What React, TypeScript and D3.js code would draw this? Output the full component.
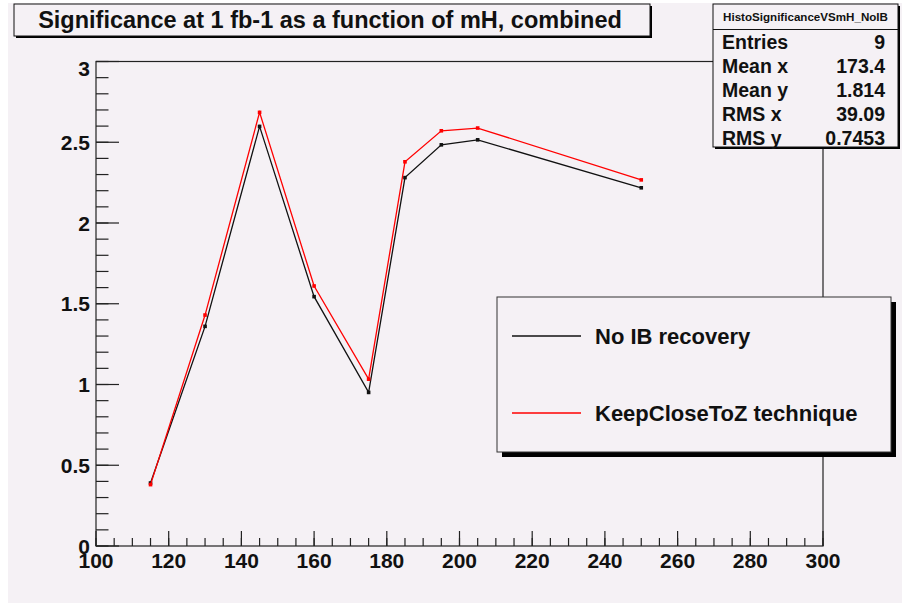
import React from "react";
import * as d3 from "d3";

const massPoints = [115, 130, 145, 160, 175, 185, 195, 205, 250];
const noIBRecovery = [0.39, 1.36, 2.598, 1.544, 0.951, 2.281, 2.484, 2.515, 2.218];
const keepCloseToZ = [0.38, 1.43, 2.685, 1.61, 1.033, 2.379, 2.571, 2.588, 2.267];

const titleText = "Significance at 1 fb-1 as a function of mH, combined";
const statsName = "HistoSignificanceVSmH_NoIB";
const statsLabels = ["Entries", "Mean x", "Mean y", "RMS x", "RMS y"];
const statsValues = ["9", "173.4", "1.814", "39.09", "0.7453"];
const seriesNames = ["No IB recovery", "KeepCloseToZ technique"];
const seriesColors = ["#111111", "#ff0000"];

const W = 902;
const H = 603;
const BG = "#f5f1f5";
const FONT = "'Liberation Sans', Arial, Helvetica, sans-serif";

const x = d3.scaleLinear().domain([100, 300]).range([96, 823]);
const y = d3.scaleLinear().domain([0, 3]).range([546, 61.5]);

export default function App() {
  const xMajor = x.ticks(10);
  const xMinor = x.ticks(40);
  const yMajor = y.ticks(6);
  const yMinor = y.ticks(30);
  const line = d3
    .line<number>()
    .x((_, i) => x(massPoints[i]))
    .y((d) => y(d));
  const series = [noIBRecovery, keepCloseToZ];

  const legend = { x: 497, y: 297, w: 394, h: 155 };
  const stats = { x: 713, y: 4, w: 185, h: 143 };
  const title = { x: 14, y: 4, w: 636, h: 32 };

  return (
    <div style={{ position: "absolute", left: 0, top: 0 }}>
      <svg width={W} height={H} style={{ display: "block" }} fontFamily={FONT} fontWeight="bold">
        <rect x={0} y={0} width={W} height={H} fill="#ffffff" />
        <rect x={8} y={3} width={W - 8} height={H - 3} fill={BG} />

        {/* frame */}
        <rect x={x(100)} y={y(3)} width={x(300) - x(100)} height={y(0) - y(3)} fill="none" stroke="#222" strokeWidth={1.2} />

        {/* y ticks */}
        {yMinor.map((t) => (
          <line key={"ym" + t} x1={x(100)} x2={x(100) + 12.5} y1={y(t)} y2={y(t)} stroke="#222" strokeWidth={1.2} />
        ))}
        {yMajor.map((t) => (
          <line key={"yM" + t} x1={x(100)} x2={x(100) + 23} y1={y(t)} y2={y(t)} stroke="#222" strokeWidth={1.2} />
        ))}
        {yMajor.map((t) => (
          <text
            key={"yl" + t}
            x={90}
            y={Math.max(y(t), 68) + 7.5}
            textAnchor="end"
            fontSize={21}
            fill="#111"
          >
            {d3.format("~g")(t)}
          </text>
        ))}

        {/* x ticks */}
        {xMinor.map((t) => (
          <line key={"xm" + t} x1={x(t)} x2={x(t)} y1={y(0)} y2={y(0) - 8} stroke="#222" strokeWidth={1.2} />
        ))}
        {xMajor.map((t) => (
          <line key={"xM" + t} x1={x(t)} x2={x(t)} y1={y(0)} y2={y(0) - 15} stroke="#222" strokeWidth={1.2} />
        ))}
        {xMajor.map((t) => (
          <text key={"xl" + t} x={x(t)} y={568} textAnchor="middle" fontSize={21} fill="#111">
            {t}
          </text>
        ))}

        {/* data */}
        {series.map((s, k) => (
          <g key={"s" + k}>
            <path d={line(s) || ""} fill="none" stroke={seriesColors[k]} strokeWidth={1.3} />
            {s.map((v, i) => (
              <rect
                key={i}
                x={x(massPoints[i]) - 1.8}
                y={y(v) - 1.8}
                width={3.6}
                height={3.6}
                fill={seriesColors[k]}
              />
            ))}
          </g>
        ))}

        {/* title */}
        <rect x={title.x + 2} y={title.y + 2} width={title.w} height={title.h} fill="#000" />
        <rect x={title.x} y={title.y} width={title.w} height={title.h} fill={BG} stroke="#111" strokeWidth={1} />
        <text x={title.x + title.w / 2 - 2} y={28} textAnchor="middle" fontSize={23.5} fill="#111">
          {titleText}
        </text>

        {/* stats box */}
        <rect x={stats.x + 2} y={stats.y + 2} width={stats.w} height={stats.h} fill="#000" />
        <rect x={stats.x} y={stats.y} width={stats.w} height={stats.h} fill={BG} stroke="#111" strokeWidth={1} />
        <line x1={stats.x} x2={stats.x + stats.w} y1={29.5} y2={29.5} stroke="#111" strokeWidth={1} />
        <text x={stats.x + stats.w / 2} y={20.5} textAnchor="middle" fontSize={11.6} fill="#111">
          {statsName}
        </text>
        {statsLabels.map((lab, i) => (
          <g key={lab}>
            <text x={722} y={49 + i * 24} fontSize={19.5} fill="#111">
              {lab}
            </text>
            <text x={885} y={49 + i * 24} textAnchor="end" fontSize={19.5} fill="#111">
              {statsValues[i]}
            </text>
          </g>
        ))}

        {/* legend */}
        <rect x={legend.x + 5} y={legend.y + 5} width={legend.w} height={legend.h} fill="#000" />
        <rect x={legend.x} y={legend.y} width={legend.w} height={legend.h} fill={BG} stroke="#333" strokeWidth={1} />
        {seriesNames.map((name, i) => (
          <g key={name}>
            <line
              x1={512}
              x2={581}
              y1={336 + i * 77}
              y2={336 + i * 77}
              stroke={seriesColors[i]}
              strokeWidth={1.3}
            />
            <text x={595} y={336 + i * 77 + 7.5} fontSize={22} fill="#111">
              {name}
            </text>
          </g>
        ))}
      </svg>
    </div>
  );
}
